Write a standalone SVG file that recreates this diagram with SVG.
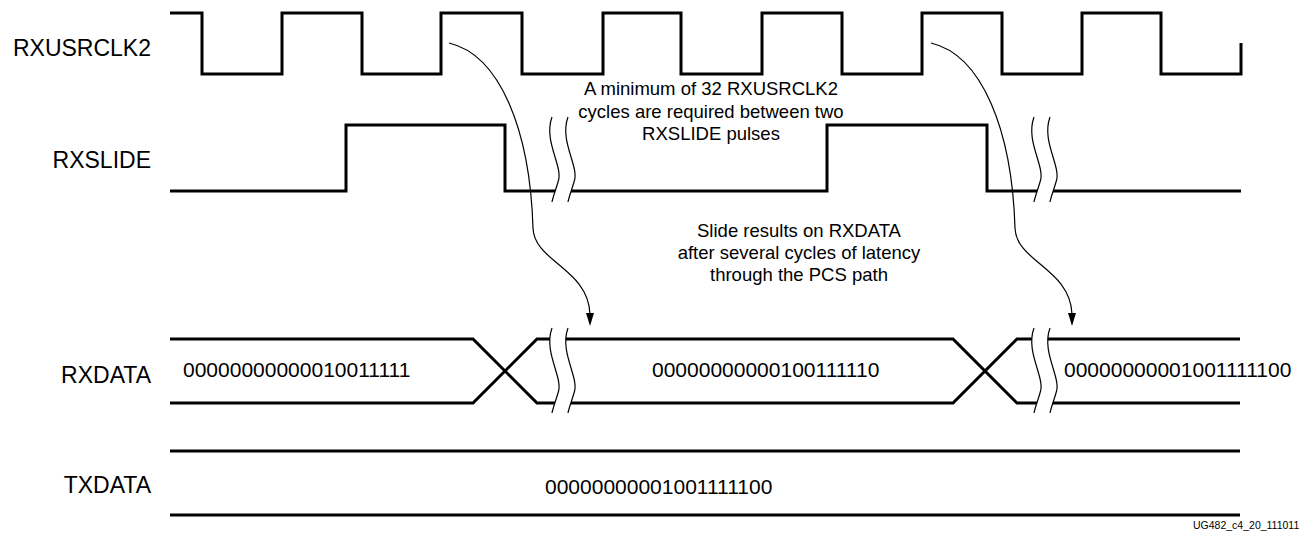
<svg xmlns="http://www.w3.org/2000/svg" xmlns:xlink="http://www.w3.org/1999/xlink" width="1314" height="536" viewBox="0 0 1314 536">
<style>
.sig{fill:none;stroke:#000;stroke-width:3;stroke-linejoin:miter;stroke-linecap:butt}
.lbl{font-family:"Liberation Sans",Arial,sans-serif;font-size:23px;fill:#000;text-anchor:end}
.val{font-family:"Liberation Sans",Arial,sans-serif;font-size:21px;fill:#000}
.note{font-family:"Liberation Sans",Arial,sans-serif;font-size:18.5px;fill:#000;text-anchor:middle}
.ref{font-family:"Liberation Sans",Arial,sans-serif;font-size:10.5px;fill:#000}
.arr{fill:none;stroke:#000;stroke-width:1.2}
.head{fill:#000}
</style>
<defs>
<g id="brk">
<path d="M0 0 C -9 25 12 50 6 65 C 4 72 1 80 0 85 L 16 85 C 17 80 20 72 22 65 C 28 50 7 25 16 0 Z" fill="#fff"/>
<path d="M0 0 C -9 25 12 50 6 65 C 4 72 1 80 0 85 M16 0 C 7 25 28 50 22 65 C 20 72 17 80 16 85" fill="none" stroke="#000" stroke-width="1.2"/>
</g>
</defs>

<g id="rxusrclk2">
<text class="lbl" x="151" y="56">RXUSRCLK2</text>
<path class="sig" d="M170 13 H202 V74 H282 V13 H362 V74 H441 V13 H522 V74 H603 V13 H681 V74 H762 V13 H842 V74 H922 V13 H1002 V74 H1082 V13 H1161 V74 H1241 V43"/>
</g>

<g id="rxslide">
<text class="lbl" x="151" y="168">RXSLIDE</text>
<path class="sig" d="M170 191 H346 V125 H505 V191 H827 V125 H987 V191 H1241"/>
<use xlink:href="#brk" transform="translate(552 117)"/>
<use xlink:href="#brk" transform="translate(1034 117)"/>
</g>

<g id="rxdata">
<text class="lbl" x="151" y="383">RXDATA</text>
<path class="sig" d="M170 339 H473 L537 403 H560 M170 403 H473 L537 339 H560"/>
<path class="sig" d="M560 339 H953 L1017 403 H1042 M560 403 H953 L1017 339 H1042"/>
<path class="sig" d="M1042 339 H1240 M1042 403 H1240"/>
<use xlink:href="#brk" transform="translate(552 328)"/>
<use xlink:href="#brk" transform="translate(1034 328)"/>
<text class="val" x="183" y="377">00000000000010011111</text>
<text class="val" x="652" y="377">00000000000100111110</text>
<text class="val" x="1064" y="377">00000000001001111100</text>
</g>

<g id="txdata">
<text class="lbl" x="151" y="493">TXDATA</text>
<path class="sig" d="M170 451 H1240 M170 515 H1240"/>
<text class="val" x="545" y="494">00000000001001111100</text>
</g>

<g id="notes">
<text class="note" x="711" y="95">A minimum of 32 RXUSRCLK2</text>
<text class="note" x="711" y="118">cycles are required between two</text>
<text class="note" x="711" y="140">RXSLIDE pulses</text>
<text class="note" x="799" y="237">Slide results on RXDATA</text>
<text class="note" x="799" y="259">after several cycles of latency</text>
<text class="note" x="799" y="281">through the PCS path</text>
</g>

<g id="connectors">
<path class="arr" d="M449 43 C 500 55, 530 130, 533 228 C 534 262, 588 268, 590 314"/>
<path class="head" d="M586 313 L594 313 L590 326 Z"/>
<path class="arr" d="M931 43 C 982 55, 1012 130, 1015 228 C 1016 262, 1070 268, 1072 314"/>
<path class="head" d="M1068 313 L1076 313 L1072 326 Z"/>
</g>

<text class="ref" x="1193" y="529">UG482_c4_20_111011</text>
</svg>
